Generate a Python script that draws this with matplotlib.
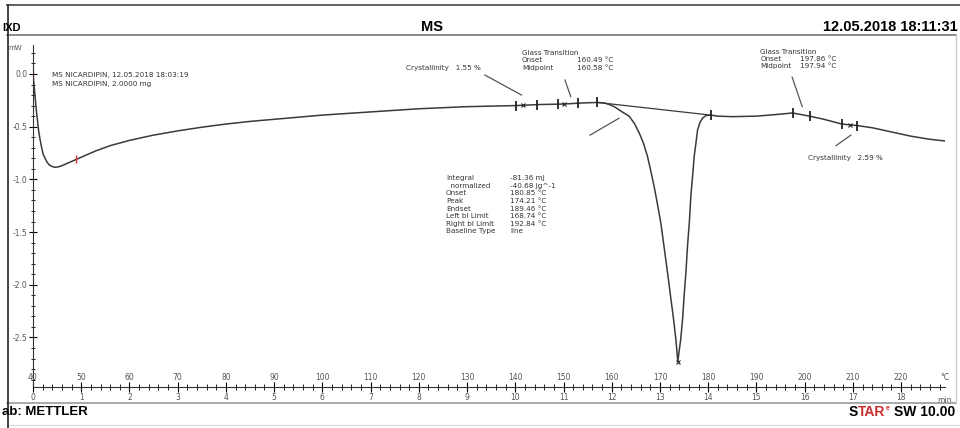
import matplotlib
matplotlib.use('Agg')
import matplotlib.pyplot as plt
from matplotlib.lines import Line2D
from matplotlib.ticker import MultipleLocator
import matplotlib.transforms as mtransforms

# DSC curve: temperature (°C) / heat flow (mW)
temp = [40.0, 40.15, 40.3, 40.5, 40.7, 40.95, 41.2, 41.5, 41.8, 42.1, 42.5, 42.9, 43.3,
        43.9, 44.5, 45.2, 46, 47, 48, 50, 53, 56, 60, 65, 70,
        75, 80, 85, 90, 95, 100, 105, 110, 115, 120, 125, 130, 135, 140, 145, 150, 154,
        157, 158.5, 159.5, 160.5, 162, 163.6, 164.7, 165.7, 166.6, 167.4, 168.1, 168.8,
        169.5, 170.2, 170.7, 171.2, 171.7, 172.2, 172.8, 173.3, 173.7,
        174.0, 174.3, 174.7, 175.0, 175.4, 175.7, 176.1, 176.4, 176.8, 177.1, 177.5,
        177.8, 178.3, 178.8, 179.5, 180.5, 182, 185, 190,
        194, 197.5, 201, 204, 207.7, 211, 214, 218, 222, 226, 229]
heat = [0.0, -0.08, -0.15, -0.25, -0.35, -0.45, -0.55, -0.63, -0.70, -0.76, -0.80, -0.835,
        -0.86, -0.877, -0.885, -0.882, -0.87, -0.85, -0.83, -0.79,
        -0.73, -0.68, -0.63, -0.58, -0.54, -0.505, -0.475, -0.45, -0.43, -0.41, -0.39,
        -0.375, -0.36, -0.345, -0.33, -0.32, -0.31, -0.305, -0.30, -0.29, -0.285, -0.275,
        -0.27, -0.275, -0.29, -0.31, -0.355, -0.40, -0.47, -0.56, -0.66, -0.78, -0.92,
        -1.07, -1.24, -1.42, -1.59, -1.76, -1.93, -2.11, -2.32, -2.52, -2.73,
        -2.62, -2.52, -2.32, -2.11, -1.87, -1.64, -1.40, -1.16, -0.95, -0.78, -0.64,
        -0.53, -0.46, -0.42, -0.395, -0.39, -0.40, -0.405, -0.40,
        -0.385, -0.37, -0.40, -0.43, -0.475, -0.49, -0.51, -0.55, -0.59, -0.62, -0.635]

# integration baseline of the melting peak
base_t = [157.0, 180.5]
base_h = [-0.27, -0.39]

# evaluation limit ticks and crosses on the curve
lim_t = [140.2, 144.5, 148.8, 153.0, 156.9, 180.5, 197.5, 201.2, 207.7, 210.9]
lim_h = [-0.30, -0.29, -0.285, -0.28, -0.27, -0.39, -0.37, -0.40, -0.475, -0.49]
cross_t = [141.6, 150.1, 209.3, 173.7]
cross_h = [-0.297, -0.283, -0.483, -2.73]
red_t = [40.0, 49.0]
red_h = [0.0, -0.81]

# tangent segment and leader lines ((t0, h0), (t1, h1))
tangent = [(155.5, -0.58), (161.5, -0.42)]
leaders = [[(133.7, -0.01), (141.3, -0.20)],
           [(150.3, -0.057), (151.5, -0.215)],
           [(197.4, -0.03), (199.5, -0.31)],
           [(206.5, -0.68), (209.6, -0.58)]]

sample_lines = ['MS NICARDIPIN, 12.05.2018 18:03:19', 'MS NICARDIPIN, 2.0000 mg']
integral_keys = ['Integral', '  normalized', 'Onset', 'Peak', 'Endset',
                 'Left bl Limit', 'Right bl Limit', 'Baseline Type']
integral_vals = ['-81.36 mJ', '-40.68 Jg^-1', '180.85 °C', '174.21 °C', '189.46 °C',
                 '168.74 °C', '192.84 °C', 'line']
xticks_c = list(range(40, 230, 10))
yticks_mw = [0.0, -0.5, -1.0, -1.5, -2.0, -2.5]

plt.rcParams['font.family'] = ['DejaVu Sans']
W, H = 960, 428
fig = plt.figure(figsize=(W / 100, H / 100), dpi=100)
ax = fig.add_axes([33 / W, (H - 387) / H, (945 - 33) / W, (387 - 45) / H])

ax.plot(temp, heat, color='#3a3a3a', lw=1.1)
ax.plot(base_t, base_h, color='#3a3a3a', lw=0.9)
ax.plot(lim_t, lim_h, ls='none', marker='|', ms=7, mew=1.3, color='#222222')
ax.plot(cross_t, cross_h, ls='none', marker='x', ms=3, mew=0.8, color='#222222')
ax.plot(red_t, red_h, ls='none', marker='|', ms=6, mew=1.0, color='#e03030')
ax.plot(*zip(*tangent), color='#555555', lw=0.9)
for ld in leaders:
    ax.plot(*zip(*ld), color='#555555', lw=0.9)

ax.set_xlim(40, 229.1)
ax.set_ylim(-2.97, 0.275)
for s in ['top', 'right']:
    ax.spines[s].set_visible(False)
ax.spines['left'].set_color('#333333')
ax.spines['bottom'].set_color('#333333')

# y axis
ax.set_yticks(yticks_mw)
ax.set_yticklabels(['%.1f' % v for v in yticks_mw])
ax.yaxis.set_minor_locator(MultipleLocator(0.1))
ax.tick_params(axis='y', which='major', direction='inout', length=6, labelsize=5.5,
               labelcolor='#555555', pad=1)
ax.tick_params(axis='y', which='minor', direction='inout', length=3)
ax.text(-0.012, 0.99, 'mW', transform=ax.transAxes, ha='right', va='center',
        fontsize=5, color='#555555')

# x axis: minutes below, °C above
ax.set_xticks(xticks_c)
ax.set_xticklabels([str((c - 40) // 10) for c in xticks_c])
ax.xaxis.set_minor_locator(MultipleLocator(2))
ax.tick_params(axis='x', which='major', direction='inout', length=7, labelsize=5.5,
               labelcolor='#555555', pad=1)
ax.tick_params(axis='x', which='minor', direction='inout', length=4)
trans = mtransforms.blended_transform_factory(ax.transData, ax.transAxes)
for c in xticks_c:
    ax.text(c, 0.016, str(c), transform=trans, ha='center', va='bottom',
            fontsize=5.5, color='#555555')
ax.text(1.0, 0.016, '°C', transform=ax.transAxes, ha='center', va='bottom',
        fontsize=5.5, color='#555555')
ax.text(1.0, -0.025, 'min', transform=ax.transAxes, ha='center', va='top',
        fontsize=5.5, color='#555555')

# annotations
fs = 5.2
tc = '#333333'
ax.text(43.9, -0.01, sample_lines[0], fontsize=fs, color=tc, va='center')
ax.text(43.9, -0.095, sample_lines[1], fontsize=fs, color=tc, va='center')
ax.text(117.4, 0.06, 'Crystallinity   1.55 %', fontsize=fs, color=tc, va='center')
ax.text(141.4, 0.20, 'Glass Transition', fontsize=fs, color=tc, va='center')
ax.text(141.4, 0.13, 'Onset', fontsize=fs, color=tc, va='center')
ax.text(141.4, 0.06, 'Midpoint', fontsize=fs, color=tc, va='center')
ax.text(152.8, 0.13, '160.49 °C', fontsize=fs, color=tc, va='center')
ax.text(152.8, 0.06, '160.58 °C', fontsize=fs, color=tc, va='center')
ax.text(190.8, 0.21, 'Glass Transition', fontsize=fs, color=tc, va='center')
ax.text(190.8, 0.14, 'Onset', fontsize=fs, color=tc, va='center')
ax.text(190.8, 0.075, 'Midpoint', fontsize=fs, color=tc, va='center')
ax.text(199.1, 0.14, '197.86 °C', fontsize=fs, color=tc, va='center')
ax.text(199.1, 0.075, '197.94 °C', fontsize=fs, color=tc, va='center')
ax.text(200.7, -0.80, 'Crystallinity   2.59 %', fontsize=fs, color=tc, va='center')
for i, (k, v) in enumerate(zip(integral_keys, integral_vals)):
    y = -0.99 - i * 0.072
    ax.text(125.6, y, k, fontsize=fs, color=tc, va='center')
    ax.text(138.9, y, v, fontsize=fs, color=tc, va='center')

# page frame
def hline(y, x0, x1, c='#666666', lw=1.0):
    fig.add_artist(Line2D([x0 / W, x1 / W], [1 - y / H, 1 - y / H], color=c, lw=lw))

def vline(x, y0, y1, c='#666666', lw=1.0):
    fig.add_artist(Line2D([x / W, x / W], [1 - y0 / H, 1 - y1 / H], color=c, lw=lw))

hline(5, 7, 960, '#555555', 1.3)
hline(34.5, 7, 956, '#777777', 1.2)
hline(403, 7, 956, '#999999', 1.2)
hline(425, 7, 960, '#dddddd', 1.0)
vline(7.5, 5, 428, '#333333', 1.3)
vline(955.5, 34.5, 403, '#cccccc', 1.0)

hfont = 'Liberation Sans'
fig.text(2 / W, 1 - 28 / H, 'IXD', fontsize=8, fontweight='bold', family=hfont,
         va='center', ha='left')
fig.text(432 / W, 1 - 27 / H, 'MS', fontsize=10.5, fontweight='bold', family=hfont,
         va='center', ha='center')
fig.text(958 / W, 1 - 27 / H, '12.05.2018 18:11:31', fontsize=10.5, fontweight='bold',
         family=hfont, va='center', ha='right')
fig.text(2 / W, 1 - 412 / H, 'ab: METTLER', fontsize=9.5, fontweight='bold', family=hfont,
         va='center', ha='left')
# STAR logo: S black, TAR + e red
t1 = fig.text(955 / W, 1 - 412 / H, 'SW 10.00', fontsize=10, fontweight='bold',
              family=hfont, va='center', ha='right')
fig.canvas.draw()
rend = fig.canvas.get_renderer()
bb = t1.get_window_extent(rend)
t2 = fig.text((bb.x0 - 4) / W, 1 - 409 / H, 'e', fontsize=5, fontweight='bold',
              family=hfont, va='center', ha='right', color='#d03030')
bb2 = t2.get_window_extent(rend)
t3 = fig.text((bb2.x0 - 0.5) / W, 1 - 412 / H, 'TAR', fontsize=10, fontweight='bold',
              family=hfont, va='center', ha='right', color='#c83030')
bb3 = t3.get_window_extent(rend)
fig.text(bb3.x0 / W, 1 - 412 / H, 'S', fontsize=10, fontweight='bold', family=hfont,
         va='center', ha='right')

fig.savefig('out.png', dpi=100)
